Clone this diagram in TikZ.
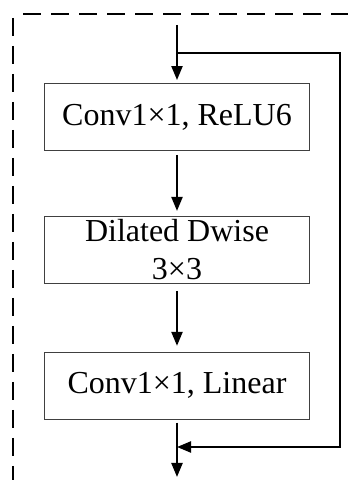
\documentclass[tikz,border=0pt]{standalone}
\usepackage{fontspec}
\setmainfont{Liberation Serif}
\usetikzlibrary{positioning, arrows.meta}
\tikzset{
  layer/.style = {draw=black!75, line width=0.9pt, minimum width=265pt, minimum height=67pt, inner sep=0pt, align=center, font=\fontsize{32}{38}\selectfont},
  arrow/.style = {-{Triangle[length=14pt, width=11pt]}, line width=2.2pt},
  frame/.style = {line width=2.4pt, dash pattern=on 18pt off 10pt}
}

\begin{document}
\begin{tikzpicture}[x=1pt, y=1pt]
  \useasboundingbox (0,0) rectangle (348,480);
  % dashed frame, cut off by the page
  \draw[frame, dash phase=18pt] (13,466) -- (380,466);
  \draw[frame, dash phase=24pt] (13,466) -- (13,-20);

  \node[layer] (conv1) at (177,363) {Conv1×1, ReLU6};
  \node[layer, below=65pt of conv1] (dwise) {Dilated Dwise\\3×3};
  \node[layer, below=68pt of dwise] (conv2) {Conv1×1, Linear};

  \coordinate (in)    at (177,455);
  \coordinate (split) at (177,427);
  \coordinate (skip)  at (340,230);
  \coordinate (join)  at (177,33);
  \coordinate (out)   at (177,3);

  \draw[arrow, shorten >=3pt] (in) -- (conv1);
  \draw[arrow, shorten <=4pt, shorten >=5pt] (conv1) -- (dwise);
  \draw[arrow, shorten <=7pt, shorten >=6pt] (dwise) -- (conv2);
  \draw[arrow, shorten <=3pt] (conv2) -- (out);
  \draw[arrow] (split) -| (skip) |- (join);
\end{tikzpicture}
\end{document}
